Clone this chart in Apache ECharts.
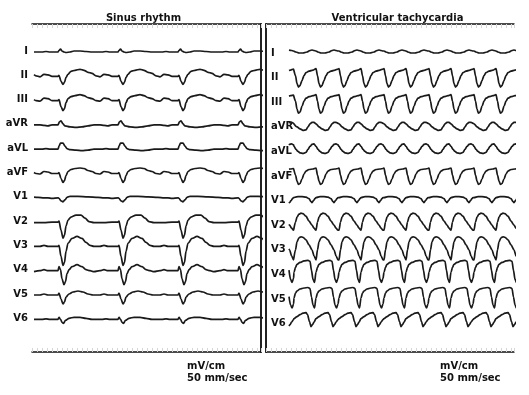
<!DOCTYPE html>
<html><head><meta charset="utf-8">
<script src="https://cdn.jsdelivr.net/npm/echarts@6/dist/echarts.min.js"></script>
<style>html,body{margin:0;padding:0;background:#fff}#c{width:529px;height:395px}</style>
</head><body><div id="c"></div>
<script>
// ---- data ----
const leads = ['I','II','III','aVR','aVL','aVF','V1','V2','V3','V4','V5','V6'];
// beat (QRS) onsets, time units along each strip
const sinusBeats = [26, 86, 146, 206];
const vtBeats = [28, 50, 73, 95, 118, 140, 163, 185, 208, 230];
// one-beat templates: [time after onset, amplitude]
const sinusI   = [[0,0],[1,1.5],[2.5,3],[4,1],[6,0],[8,-0.5],[12,0],[16,1],[22,1],[28,0.5],[34,0],[44,0],[48,0.5],[52,0],[60,0]];
const sinusII  = [[0,0],[1,1],[3,-5],[5,-8],[6.5,-6],[8,-1],[10,2],[13,5],[17,6],[22,7],[26,6],[30,4],[34,3],[38,0.5],[42,-0.5],[46,2],[50,1.5],[54,0],[60,0]];
const sinusIII = [[0,0],[1,1],[3,-6],[5,-10],[6.5,-8],[8,-2],[10,2],[13,4],[17,5],[22,6],[26,5],[30,3],[34,2],[38,0],[42,-0.5],[46,2.5],[50,2],[54,0],[60,0]];
const sinusAVR = [[0,0],[1.5,3],[3,4],[5,1],[7,-1],[12,-2],[18,-2.5],[24,-2],[30,-1],[36,0],[42,0],[46,-0.5],[50,-1],[54,0],[60,0]];
const sinusAVL = [[0,0],[1,3],[2.5,6],[5,6],[7,3],[9,0.5],[12,-0.5],[18,-1],[24,-1.5],[30,-1],[36,0],[44,0],[48,0.5],[52,0],[60,0]];
const sinusAVF = [[0,0],[1,1],[3,-5],[5,-9],[6.5,-7],[8,-2],[10,2],[13,4],[17,5],[22,5.5],[26,5],[30,3],[34,2],[38,0],[42,-0.5],[46,2],[50,1.5],[54,0],[60,0]];
const sinusV1  = [[0,0],[1,-0.5],[3,-3],[5,-4],[7,-2],[9,0.5],[12,1.5],[20,1.5],[30,1],[40,0.5],[46,0],[50,0],[54,-0.5],[60,0]];
const sinusV2  = [[0,0],[1,1],[3,-8],[5,-16],[6.5,-13],[8,-4],[10,2],[13,5],[18,7],[23,7],[27,4],[31,0.5],[36,-0.5],[46,-0.5],[54,0],[60,0]];
const sinusV3  = [[0,0],[1,1],[3,-10],[5,-19],[6.5,-16],[8,-5],[10,3],[14,8],[19,10],[24,8],[28,4],[32,1],[36,0],[42,0],[46,1],[50,0],[60,0]];
const sinusV4  = [[0,0],[1,4],[2.5,1],[4,-8],[6,-14],[7.5,-11],[9,-3],[11,1],[14,4],[19,6],[24,4],[28,1],[32,0],[36,-1],[42,0],[46,1],[50,0],[60,0]];
const sinusV5  = [[0,0],[1,2],[3,-4],[5,-9],[6.5,-7],[8,-2],[11,1],[15,3],[20,4],[25,3],[30,1],[35,0],[42,0],[46,1],[50,0],[60,0]];
const sinusV6  = [[0,0],[1,2],[2.5,0],[4,-3],[5.5,-4],[7.5,-1],[11,1],[16,2],[22,2],[28,1],[34,0],[44,0],[48,0.5],[52,0],[60,0]];

const vtI   = [[0,2],[2,1],[5,0],[9,0],[13,1],[16,2.5],[18,3],[20,2.5],[22,2]];
const vtII  = [[0,9],[1.5,2],[3,-6],[4.5,-9.5],[6,-8],[8,-3],[10,2],[12,5],[15,6.5],[19,7.5],[22,8.5]];
const vtIII = [[0,7.5],[1.5,1],[3,-7],[4.5,-11],[6,-10],[8,-4],[10,1],[12,4],[15,5.5],[19,6.5],[22,7]];
const vtAVR = [[0,3],[3,0],[6,-2],[9,-3.5],[12,-3],[14,0],[16,3],[18,4.5],[20,4.5],[22,3.5]];
const vtAVL = [[0,5],[2,2],[4,0],[6,-1.5],[9,-2],[12,-1],[14,2],[16,5],[18,7],[20,7.5],[22,6.5]];
const vtAVF = [[0,8],[1.5,1],[3,-5],[4.5,-8.5],[6,-7.5],[8,-3],[10,2],[12,5],[15,6.5],[19,7],[22,7.5]];
const vtV1  = [[0,3],[4,4],[8,4],[12,3.5],[15,2],[17,-1],[18,-2],[19.5,0],[21,2],[22,3]];
const vtV2  = [[0,-5],[1.5,3],[3,8],[5,11],[7,12],[9,11.5],[12,9],[15,4],[18,0],[20,-3],[22,-5]];
const vtV3  = [[0,-10],[1.5,0],[3,8],[5,12],[7,13],[9,12.5],[12,10],[15,5],[18,0],[20,-6],[22,-10]];
const vtV4  = [[0,2],[1.5,7],[3,10],[6,12],[10,13.5],[14,14],[16,13],[17.5,4],[19,-5],[20.5,-8],[22,-4]];
const vtV5  = [[0,1],[1.5,6],[3,8],[6,10],[10,11],[14,11.5],[16,10.5],[17.5,2],[19,-6],[20.5,-9],[22,-5]];
const vtV6  = [[0,5],[3,7],[6,9],[9,10.5],[12,11],[13.5,9],[15.5,2],[17,-3],[18.5,-1],[20,1.5],[22,4]];

const sinusTemplates = [sinusI,sinusII,sinusIII,sinusAVR,sinusAVL,sinusAVF,sinusV1,sinusV2,sinusV3,sinusV4,sinusV5,sinusV6];
const vtTemplates = [vtI,vtII,vtIII,vtAVR,vtAVL,vtAVF,vtV1,vtV2,vtV3,vtV4,vtV5,vtV6];
const titles = ['Sinus rhythm', 'Ventricular tachycardia'];
const scaleText = ['mV/cm', '50 mm/sec'];

// ---- layout ----
const L = {left:32, width:229, tmax:229, start:2, base:52, gap:24.3};
const R = {left:266, width:248, tmax:248, start:23, base:53, gap:24.6};
const TOP = 24, BOT = 352;

function buildTrace(tpl, beats, start) {
  const n = beats.length;
  const period = (beats[n-1]-beats[0])/(n-1);
  const onsets = [beats[0]-period, ...beats, beats[n-1]+period];
  const all = [];
  for (let k=0;k<onsets.length-1;k++){
    const t0=onsets[k], t1=onsets[k+1];
    for (const [dt,a] of tpl){
      if (t0+dt>=t1) break;
      all.push([t0+dt,a]);
    }
  }
  const pts = [];
  for (let j=0;j<all.length;j++){
    const [t,a]=all[j];
    if (t<start) continue;
    if (!pts.length && j>0){
      const [tp,ap]=all[j-1];
      pts.push([start, ap+(a-ap)*(start-tp)/(t-tp)]);
    }
    pts.push([t,a]);
  }
  return pts;
}

const chart = echarts.init(document.getElementById('c'), null, {renderer:'canvas'});
const series = [];
function panel(P, gi, templates, beats) {
  templates.forEach((tpl, i) => {
    const off = -i*P.gap;
    series.push({
      type:'line', xAxisIndex:gi*2, yAxisIndex:gi, symbol:'none',
      smooth:0.3, smoothMonotone:'x', silent:true,
      lineStyle:{color:'#1a1a1a', width:1.7},
      data: buildTrace(tpl, beats, P.start).map(([t,a]) => [t, a + off])
    });
  });
}
panel(L, 0, sinusTemplates, sinusBeats);
panel(R, 1, vtTemplates, vtBeats);

function xAxes(P, gi) {
  const base = {gridIndex:gi, type:'value', min:0, max:P.tmax, interval:5,
    axisLine:{show:true, onZero:false, lineStyle:{color:'#111', width:1.5}},
    axisTick:{show:true, inside:true, length:4, lineStyle:{color:'#d6d6d6', width:1}},
    axisLabel:{show:false}, splitLine:{show:false}};
  return [Object.assign({position:'bottom'}, base), Object.assign({position:'top'}, base)];
}
function yAxis(P, gi, pos) {
  return {gridIndex:gi, type:'value', position:pos,
    max: P.base-TOP, min: -(BOT-P.base),
    axisLine:{show:true, onZero:false, lineStyle:{color:'#222', width:2}},
    axisTick:{show:false}, axisLabel:{show:false}, splitLine:{show:false}};
}

const txt = (s, x, y, align) => ({type:'text', x, y, silent:true,
  style:{text:s, font:'bold 10px "DejaVu Sans"', fill:'#111', textAlign:align, textVerticalAlign:'middle'}});

chart.setOption({
  animation:false,
  grid:[
    {left:L.left, top:TOP, width:L.width, height:BOT-TOP},
    {left:R.left, top:TOP, width:R.width, height:BOT-TOP}
  ],
  xAxis:[...xAxes(L,0), ...xAxes(R,1)],
  yAxis:[yAxis(L,0,'right'), yAxis(R,1,'left')],
  series
});

const graphic = [
  txt(titles[0], 143.5, 18, 'center'),
  txt(titles[1], 397.5, 18, 'center'),
  txt(scaleText[0], 187, 366, 'left'),
  txt(scaleText[1], 187, 378.5, 'left'),
  txt(scaleText[0], 440, 366, 'left'),
  txt(scaleText[1], 440, 378.5, 'left')
];
leads.forEach((nm, i) => {
  const pl = chart.convertToPixel({xAxisIndex:0, yAxisIndex:0}, [0, -i*L.gap]);
  graphic.push(txt(nm, pl[0]-4, pl[1]-1, 'right'));
  const pr = chart.convertToPixel({xAxisIndex:2, yAxisIndex:1}, [0, -i*R.gap]);
  graphic.push(txt(nm, pr[0]+5, pr[1], 'left'));
});
chart.setOption({graphic});
</script></body></html>
